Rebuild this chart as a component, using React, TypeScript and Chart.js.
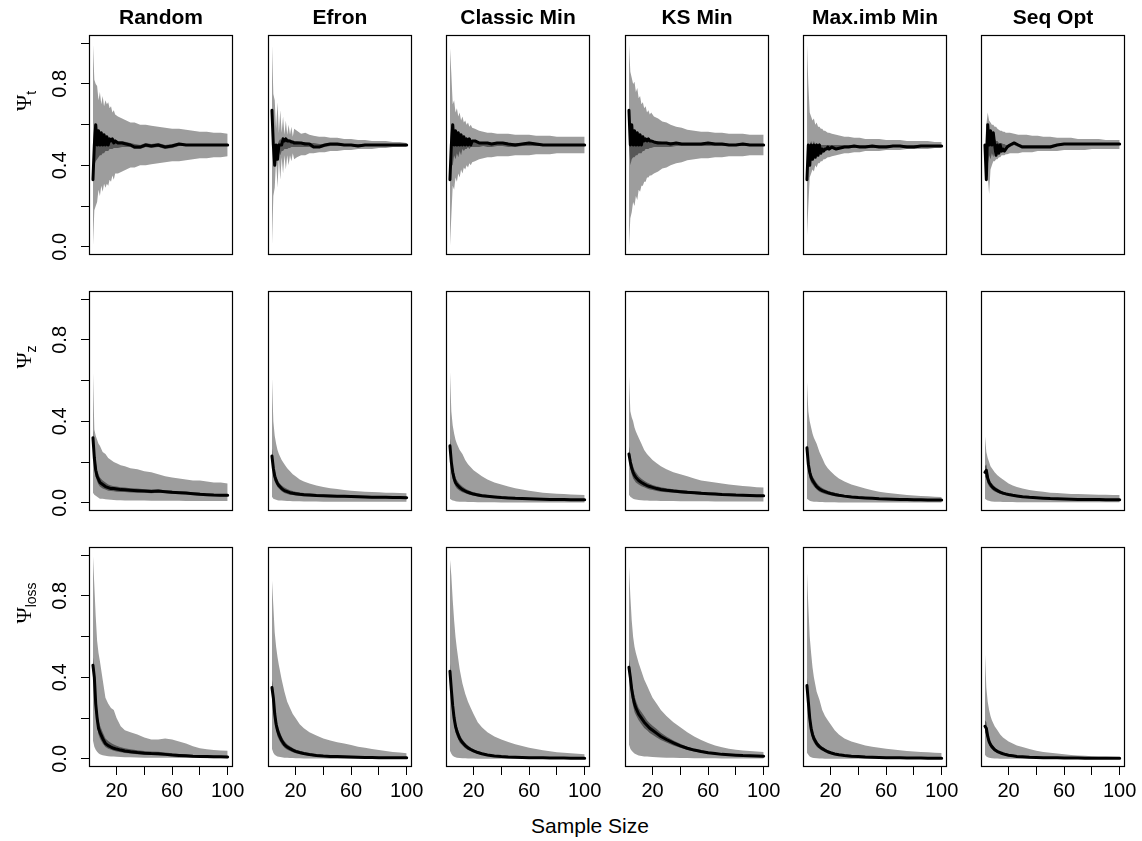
import React, { useEffect, useRef } from "react";
import { Chart, registerables } from "chart.js";

Chart.register(...registerables);
Chart.defaults.font.family = '"Liberation Sans", Arial, Helvetica, sans-serif';

// ---- labels ---------------------------------------------------------------
const methods = ["Random", "Efron", "Classic Min", "KS Min", "Max.imb Min", "Seq Opt"];
const rowSubscripts = ["t", "z", "loss"];
const xTicks = [20, 40, 60, 80, 100];
const xTickLabels = ["20", "", "60", "", "100"];
const yTicks = [0, 0.2, 0.4, 0.6, 0.8, 1.0];
const yTickLabels = ["0.0", "", "0.4", "", "0.8", ""];
const xAxisTitle = "Sample Size";

// ---- sample sizes -----------------------------------------------------------
const nT = [3, 4, 5, 6, 7, 8, 9, 10, 11, 12, 13, 14, 15, 16, 17, 18, 19,
  21, 24, 27, 30, 33, 37, 41, 45, 50, 55, 60, 65, 70, 75, 80, 85, 90, 95, 100];
const nZ = [3, 4, 5, 6, 7, 8, 10, 12, 14, 16, 18, 20, 23, 26, 30,
  35, 40, 45, 50, 55, 60, 65, 70, 75, 80, 85, 90, 95, 100];

// ---- Psi_t : treatment balance (one row per method) -------------------------
const tOuterHi = [
  [1.0, 0.82, 0.80, 0.79, 0.72, 0.76, 0.70, 0.74, 0.69, 0.72, 0.70, 0.71, 0.68, 0.69, 0.66, 0.67, 0.65,
    0.64, 0.63, 0.62, 0.61, 0.61, 0.60, 0.60, 0.595, 0.59, 0.585, 0.58, 0.58, 0.575, 0.57, 0.565, 0.565, 0.56, 0.56, 0.555],
  [1.0, 0.75, 0.72, 0.58, 0.71, 0.56, 0.67, 0.56, 0.64, 0.55, 0.62, 0.55, 0.60, 0.55, 0.59, 0.54, 0.58,
    0.57, 0.555, 0.56, 0.55, 0.545, 0.54, 0.54, 0.535, 0.535, 0.53, 0.53, 0.525, 0.525, 0.52, 0.52, 0.52, 0.515, 0.515, 0.51],
  [0.98, 0.85, 0.70, 0.72, 0.66, 0.68, 0.64, 0.66, 0.62, 0.64, 0.61, 0.62, 0.60, 0.61, 0.59, 0.60, 0.585,
    0.58, 0.57, 0.565, 0.56, 0.56, 0.555, 0.555, 0.555, 0.55, 0.55, 0.55, 0.545, 0.545, 0.545, 0.54, 0.54, 0.54, 0.54, 0.54],
  [1.0, 0.86, 0.83, 0.80, 0.81, 0.76, 0.78, 0.73, 0.74, 0.70, 0.71, 0.68, 0.69, 0.66, 0.67, 0.65, 0.66,
    0.64, 0.63, 0.615, 0.61, 0.60, 0.59, 0.585, 0.575, 0.57, 0.565, 0.565, 0.56, 0.56, 0.555, 0.555, 0.555, 0.55, 0.55, 0.55],
  [1.0, 0.80, 0.66, 0.64, 0.62, 0.63, 0.60, 0.61, 0.59, 0.59, 0.58, 0.58, 0.57, 0.57, 0.565, 0.56, 0.56,
    0.555, 0.55, 0.545, 0.54, 0.54, 0.535, 0.535, 0.53, 0.53, 0.53, 0.525, 0.525, 0.525, 0.52, 0.52, 0.52, 0.52, 0.515, 0.515],
  [0.5, 0.6, 0.66, 0.62, 0.61, 0.60, 0.60, 0.59, 0.59, 0.58, 0.575, 0.57, 0.57, 0.565, 0.565, 0.56, 0.56,
    0.56, 0.555, 0.55, 0.55, 0.55, 0.545, 0.545, 0.54, 0.54, 0.535, 0.535, 0.535, 0.53, 0.53, 0.53, 0.53, 0.525, 0.525, 0.525],
];
const tOuterLo = [
  [0.0, 0.18, 0.20, 0.22, 0.28, 0.25, 0.30, 0.27, 0.31, 0.29, 0.31, 0.30, 0.33, 0.32, 0.35, 0.33, 0.36,
    0.36, 0.37, 0.38, 0.39, 0.39, 0.40, 0.40, 0.405, 0.41, 0.415, 0.42, 0.42, 0.425, 0.43, 0.435, 0.435, 0.44, 0.44, 0.445],
  [0.0, 0.25, 0.29, 0.43, 0.29, 0.44, 0.33, 0.44, 0.36, 0.45, 0.38, 0.45, 0.40, 0.45, 0.42, 0.46, 0.43,
    0.44, 0.45, 0.45, 0.46, 0.46, 0.465, 0.465, 0.47, 0.47, 0.475, 0.475, 0.48, 0.48, 0.48, 0.485, 0.485, 0.49, 0.49, 0.49],
  [0.0, 0.15, 0.30, 0.28, 0.34, 0.32, 0.36, 0.34, 0.38, 0.36, 0.39, 0.38, 0.40, 0.39, 0.41, 0.40, 0.415,
    0.42, 0.43, 0.435, 0.44, 0.44, 0.445, 0.445, 0.445, 0.45, 0.45, 0.45, 0.455, 0.455, 0.455, 0.46, 0.46, 0.46, 0.46, 0.46],
  [0.0, 0.14, 0.17, 0.22, 0.20, 0.25, 0.23, 0.28, 0.27, 0.30, 0.30, 0.32, 0.32, 0.34, 0.34, 0.35, 0.35,
    0.36, 0.37, 0.385, 0.39, 0.40, 0.41, 0.415, 0.425, 0.43, 0.435, 0.435, 0.44, 0.44, 0.445, 0.445, 0.445, 0.45, 0.45, 0.45],
  [0.05, 0.20, 0.34, 0.36, 0.38, 0.37, 0.40, 0.39, 0.41, 0.41, 0.42, 0.42, 0.43, 0.43, 0.435, 0.44, 0.44,
    0.445, 0.45, 0.455, 0.46, 0.46, 0.465, 0.465, 0.47, 0.47, 0.47, 0.475, 0.475, 0.475, 0.48, 0.48, 0.48, 0.48, 0.485, 0.485],
  [0.33, 0.33, 0.35, 0.26, 0.38, 0.40, 0.42, 0.42, 0.43, 0.43, 0.44, 0.44, 0.45, 0.45, 0.45, 0.455, 0.455,
    0.46, 0.46, 0.46, 0.465, 0.465, 0.465, 0.47, 0.47, 0.47, 0.47, 0.475, 0.475, 0.475, 0.475, 0.48, 0.48, 0.48, 0.48, 0.48],
];
const tInnerHi = [
  [0.5, 0.6, 0.6, 0.58, 0.57, 0.56, 0.56, 0.55, 0.55, 0.545, 0.54, 0.535, 0.53, 0.53, 0.53, 0.525, 0.525,
    0.52, 0.52, 0.515, 0.51, 0.505, 0.5, 0.51, 0.505, 0.51, 0.5, 0.505, 0.51, 0.505, 0.505, 0.505, 0.505, 0.505, 0.505, 0.505],
  [0.67, 0.5, 0.5, 0.5, 0.5, 0.52, 0.53, 0.52, 0.54, 0.53, 0.54, 0.53, 0.53, 0.525, 0.525, 0.52, 0.52,
    0.52, 0.515, 0.515, 0.51, 0.51, 0.505, 0.505, 0.51, 0.51, 0.505, 0.505, 0.505, 0.505, 0.505, 0.505, 0.505, 0.505, 0.505, 0.505],
  [0.5, 0.6, 0.6, 0.56, 0.57, 0.55, 0.56, 0.54, 0.55, 0.54, 0.54, 0.53, 0.53, 0.53, 0.53, 0.52, 0.52,
    0.52, 0.515, 0.515, 0.515, 0.51, 0.515, 0.515, 0.51, 0.51, 0.51, 0.515, 0.51, 0.505, 0.505, 0.505, 0.505, 0.505, 0.505, 0.505],
  [0.67, 0.6, 0.6, 0.58, 0.57, 0.56, 0.56, 0.55, 0.55, 0.54, 0.54, 0.535, 0.535, 0.53, 0.53, 0.525, 0.525,
    0.52, 0.52, 0.515, 0.515, 0.515, 0.515, 0.51, 0.51, 0.51, 0.51, 0.515, 0.51, 0.51, 0.505, 0.505, 0.51, 0.505, 0.505, 0.505],
  [0.5, 0.5, 0.5, 0.52, 0.5, 0.52, 0.5, 0.51, 0.5, 0.51, 0.5, 0.5, 0.5, 0.5, 0.5, 0.5, 0.5,
    0.5, 0.5, 0.5, 0.5, 0.5, 0.5, 0.5, 0.5, 0.5, 0.5, 0.5, 0.5, 0.5, 0.5, 0.5, 0.5, 0.5, 0.5, 0.5],
  [0.5, 0.5, 0.6, 0.55, 0.57, 0.54, 0.56, 0.53, 0.52, 0.52, 0.51, 0.51, 0.51, 0.505, 0.505, 0.5, 0.5,
    0.505, 0.515, 0.505, 0.5, 0.5, 0.5, 0.5, 0.5, 0.5, 0.505, 0.51, 0.51, 0.51, 0.51, 0.51, 0.51, 0.51, 0.51, 0.51],
];
const tInnerLo = [
  [0.33, 0.4, 0.42, 0.43, 0.44, 0.45, 0.45, 0.46, 0.46, 0.47, 0.47, 0.47, 0.48, 0.48, 0.48, 0.485, 0.485,
    0.485, 0.49, 0.49, 0.49, 0.48, 0.48, 0.49, 0.485, 0.49, 0.48, 0.485, 0.495, 0.495, 0.495, 0.495, 0.495, 0.495, 0.495, 0.495],
  [0.5, 0.5, 0.4, 0.5, 0.43, 0.47, 0.45, 0.47, 0.47, 0.48, 0.48, 0.48, 0.485, 0.485, 0.49, 0.49, 0.49,
    0.49, 0.49, 0.49, 0.49, 0.485, 0.485, 0.49, 0.495, 0.495, 0.495, 0.495, 0.49, 0.495, 0.495, 0.495, 0.495, 0.495, 0.495, 0.495],
  [0.33, 0.4, 0.4, 0.45, 0.43, 0.46, 0.44, 0.47, 0.45, 0.48, 0.47, 0.48, 0.48, 0.49, 0.48, 0.49, 0.49,
    0.49, 0.49, 0.495, 0.49, 0.49, 0.495, 0.495, 0.49, 0.49, 0.495, 0.495, 0.495, 0.495, 0.495, 0.495, 0.495, 0.495, 0.495, 0.495],
  [0.5, 0.4, 0.43, 0.44, 0.44, 0.45, 0.45, 0.46, 0.46, 0.46, 0.47, 0.47, 0.48, 0.48, 0.48, 0.485, 0.485,
    0.49, 0.49, 0.49, 0.49, 0.49, 0.495, 0.495, 0.495, 0.495, 0.495, 0.495, 0.495, 0.495, 0.495, 0.495, 0.495, 0.495, 0.495, 0.495],
  [0.33, 0.4, 0.4, 0.44, 0.43, 0.45, 0.44, 0.46, 0.45, 0.46, 0.46, 0.47, 0.47, 0.47, 0.475, 0.48, 0.475,
    0.48, 0.475, 0.48, 0.485, 0.485, 0.485, 0.485, 0.485, 0.485, 0.485, 0.485, 0.49, 0.49, 0.485, 0.485, 0.49, 0.49, 0.49, 0.49],
  [0.5, 0.33, 0.4, 0.45, 0.43, 0.46, 0.44, 0.47, 0.45, 0.47, 0.46, 0.47, 0.47, 0.48, 0.47, 0.48, 0.485,
    0.49, 0.5, 0.49, 0.485, 0.485, 0.485, 0.485, 0.485, 0.485, 0.495, 0.5, 0.5, 0.5, 0.5, 0.5, 0.5, 0.5, 0.5, 0.5],
];
const tMedian = [
  [0.33, 0.5, 0.6, 0.5, 0.57, 0.5, 0.56, 0.5, 0.55, 0.5, 0.54, 0.5, 0.53, 0.52, 0.53, 0.51, 0.52,
    0.51, 0.51, 0.505, 0.5, 0.49, 0.49, 0.5, 0.495, 0.5, 0.49, 0.495, 0.505, 0.5, 0.5, 0.5, 0.5, 0.5, 0.5, 0.5],
  [0.67, 0.5, 0.4, 0.5, 0.43, 0.5, 0.5, 0.5, 0.53, 0.52, 0.53, 0.52, 0.52, 0.52, 0.515, 0.515, 0.51,
    0.51, 0.51, 0.505, 0.505, 0.49, 0.49, 0.5, 0.505, 0.505, 0.5, 0.5, 0.495, 0.5, 0.5, 0.5, 0.5, 0.5, 0.5, 0.5],
  [0.33, 0.5, 0.6, 0.5, 0.57, 0.5, 0.56, 0.5, 0.55, 0.5, 0.54, 0.5, 0.53, 0.5, 0.53, 0.5, 0.52,
    0.52, 0.51, 0.51, 0.51, 0.505, 0.51, 0.51, 0.505, 0.5, 0.505, 0.51, 0.505, 0.5, 0.5, 0.5, 0.5, 0.5, 0.5, 0.5],
  [0.67, 0.5, 0.6, 0.5, 0.57, 0.5, 0.56, 0.5, 0.55, 0.5, 0.54, 0.52, 0.53, 0.52, 0.53, 0.52, 0.52,
    0.515, 0.51, 0.51, 0.51, 0.505, 0.51, 0.505, 0.505, 0.505, 0.505, 0.51, 0.505, 0.505, 0.5, 0.5, 0.505, 0.5, 0.5, 0.5],
  [0.33, 0.5, 0.4, 0.5, 0.43, 0.5, 0.44, 0.5, 0.45, 0.5, 0.46, 0.48, 0.47, 0.48, 0.48, 0.49, 0.48,
    0.49, 0.48, 0.485, 0.49, 0.49, 0.495, 0.49, 0.49, 0.495, 0.49, 0.49, 0.495, 0.495, 0.49, 0.49, 0.495, 0.495, 0.495, 0.495],
  [0.5, 0.33, 0.6, 0.5, 0.57, 0.5, 0.56, 0.5, 0.45, 0.5, 0.46, 0.5, 0.47, 0.48, 0.47, 0.48, 0.49,
    0.5, 0.51, 0.5, 0.49, 0.49, 0.49, 0.49, 0.49, 0.49, 0.5, 0.505, 0.505, 0.505, 0.505, 0.505, 0.505, 0.505, 0.505, 0.505],
];

// ---- Psi_z : covariate balance ----------------------------------------------
const zOuterHi = [
  [0.65, 0.36, 0.33, 0.31, 0.29, 0.28, 0.25, 0.24, 0.22, 0.21, 0.20, 0.195, 0.185, 0.18, 0.17,
    0.165, 0.155, 0.15, 0.14, 0.13, 0.125, 0.12, 0.115, 0.11, 0.11, 0.105, 0.10, 0.10, 0.095],
  [0.62, 0.40, 0.33, 0.29, 0.26, 0.24, 0.21, 0.19, 0.17, 0.155, 0.14, 0.13, 0.115, 0.105, 0.095,
    0.085, 0.078, 0.072, 0.068, 0.063, 0.06, 0.057, 0.055, 0.053, 0.052, 0.05, 0.049, 0.048, 0.047],
  [0.65, 0.45, 0.38, 0.34, 0.31, 0.29, 0.26, 0.24, 0.21, 0.19, 0.175, 0.16, 0.145, 0.13, 0.115,
    0.1, 0.09, 0.08, 0.072, 0.065, 0.06, 0.055, 0.05, 0.047, 0.045, 0.043, 0.041, 0.04, 0.038],
  [0.63, 0.45, 0.42, 0.4, 0.37, 0.35, 0.32, 0.29, 0.26, 0.24, 0.225, 0.21, 0.195, 0.18, 0.165,
    0.15, 0.14, 0.13, 0.12, 0.11, 0.105, 0.1, 0.095, 0.09, 0.087, 0.083, 0.08, 0.077, 0.075],
  [0.6, 0.45, 0.4, 0.37, 0.34, 0.32, 0.29, 0.25, 0.22, 0.19, 0.17, 0.155, 0.135, 0.12, 0.105,
    0.09, 0.08, 0.07, 0.062, 0.055, 0.05, 0.046, 0.042, 0.039, 0.036, 0.034, 0.032, 0.03, 0.029],
  [0.33, 0.25, 0.22, 0.2, 0.18, 0.17, 0.15, 0.135, 0.125, 0.115, 0.105, 0.095, 0.085, 0.078, 0.07,
    0.063, 0.058, 0.054, 0.05, 0.048, 0.046, 0.044, 0.043, 0.042, 0.041, 0.04, 0.04, 0.039, 0.038],
];
const zOuterLo = [
  [0.05, 0.04, 0.035, 0.03, 0.025, 0.02, 0.02, 0.018, 0.016, 0.015, 0.014, 0.013, 0.013, 0.012, 0.012,
    0.011, 0.011, 0.01, 0.01, 0.01, 0.01, 0.01, 0.009, 0.009, 0.009, 0.009, 0.009, 0.009, 0.009],
  [0.03, 0.02, 0.018, 0.015, 0.013, 0.012, 0.011, 0.01, 0.009, 0.009, 0.008, 0.008, 0.008, 0.007, 0.007,
    0.007, 0.006, 0.006, 0.006, 0.006, 0.006, 0.005, 0.005, 0.005, 0.005, 0.005, 0.005, 0.005, 0.005],
  [0.02, 0.015, 0.012, 0.01, 0.008, 0.007, 0.006, 0.005, 0.005, 0.004, 0.004, 0.004, 0.003, 0.003, 0.003,
    0.003, 0.002, 0.002, 0.002, 0.002, 0.002, 0.002, 0.002, 0.002, 0.002, 0.002, 0.002, 0.002, 0.002],
  [0.04, 0.03, 0.025, 0.02, 0.018, 0.016, 0.014, 0.013, 0.012, 0.011, 0.01, 0.01, 0.01, 0.009, 0.009,
    0.009, 0.008, 0.008, 0.008, 0.008, 0.008, 0.007, 0.007, 0.007, 0.007, 0.007, 0.007, 0.007, 0.007],
  [0.02, 0.015, 0.01, 0.008, 0.007, 0.006, 0.005, 0.004, 0.004, 0.003, 0.003, 0.003, 0.003, 0.002, 0.002,
    0.002, 0.002, 0.002, 0.002, 0.002, 0.002, 0.002, 0.002, 0.002, 0.002, 0.002, 0.002, 0.002, 0.002],
  [0.02, 0.015, 0.012, 0.01, 0.008, 0.007, 0.006, 0.005, 0.005, 0.004, 0.004, 0.004, 0.004, 0.003, 0.003,
    0.003, 0.003, 0.003, 0.003, 0.003, 0.003, 0.003, 0.003, 0.003, 0.003, 0.003, 0.003, 0.003, 0.003],
];
const zInnerHi = [
  [0.36, 0.26, 0.20, 0.16, 0.14, 0.125, 0.11, 0.10, 0.09, 0.085, 0.082, 0.08, 0.077, 0.075, 0.072,
    0.07, 0.067, 0.065, 0.066, 0.062, 0.06, 0.057, 0.055, 0.052, 0.049, 0.046, 0.044, 0.043, 0.042],
  [0.27, 0.2, 0.16, 0.135, 0.115, 0.1, 0.085, 0.075, 0.068, 0.062, 0.058, 0.055, 0.051, 0.048, 0.046,
    0.043, 0.041, 0.04, 0.039, 0.038, 0.037, 0.036, 0.035, 0.034, 0.033, 0.032, 0.031, 0.031, 0.03],
  [0.32, 0.24, 0.18, 0.15, 0.125, 0.11, 0.092, 0.08, 0.07, 0.063, 0.057, 0.052, 0.047, 0.043, 0.039,
    0.035, 0.032, 0.029, 0.027, 0.025, 0.024, 0.023, 0.022, 0.021, 0.02, 0.02, 0.019, 0.019, 0.019],
  [0.28, 0.23, 0.2, 0.18, 0.16, 0.15, 0.13, 0.118, 0.108, 0.1, 0.094, 0.088, 0.082, 0.077, 0.072,
    0.067, 0.063, 0.06, 0.057, 0.054, 0.051, 0.049, 0.047, 0.045, 0.043, 0.042, 0.041, 0.04, 0.04],
  [0.31, 0.22, 0.18, 0.15, 0.13, 0.12, 0.097, 0.083, 0.073, 0.066, 0.06, 0.055, 0.049, 0.044, 0.039,
    0.035, 0.031, 0.029, 0.026, 0.024, 0.023, 0.022, 0.021, 0.02, 0.019, 0.018, 0.018, 0.017, 0.017],
  [0.18, 0.19, 0.145, 0.12, 0.105, 0.095, 0.08, 0.07, 0.062, 0.056, 0.051, 0.047, 0.042, 0.039, 0.035,
    0.031, 0.029, 0.027, 0.025, 0.023, 0.022, 0.021, 0.02, 0.02, 0.019, 0.019, 0.018, 0.018, 0.018],
];
const zInnerLo = [
  [0.28, 0.18, 0.13, 0.105, 0.09, 0.08, 0.07, 0.065, 0.06, 0.058, 0.057, 0.055, 0.053, 0.053, 0.051,
    0.05, 0.049, 0.047, 0.05, 0.048, 0.044, 0.043, 0.041, 0.038, 0.035, 0.034, 0.032, 0.031, 0.031],
  [0.19, 0.14, 0.105, 0.09, 0.078, 0.07, 0.057, 0.048, 0.044, 0.04, 0.038, 0.036, 0.034, 0.033, 0.031,
    0.03, 0.029, 0.028, 0.027, 0.026, 0.025, 0.025, 0.024, 0.023, 0.022, 0.022, 0.021, 0.021, 0.02],
  [0.24, 0.16, 0.12, 0.095, 0.08, 0.07, 0.06, 0.052, 0.047, 0.042, 0.038, 0.035, 0.032, 0.029, 0.026,
    0.024, 0.021, 0.02, 0.018, 0.017, 0.016, 0.015, 0.014, 0.013, 0.013, 0.012, 0.012, 0.012, 0.011],
  [0.2, 0.17, 0.14, 0.12, 0.11, 0.1, 0.09, 0.082, 0.076, 0.07, 0.066, 0.063, 0.058, 0.055, 0.052,
    0.049, 0.047, 0.044, 0.043, 0.04, 0.039, 0.037, 0.035, 0.034, 0.033, 0.032, 0.031, 0.03, 0.03],
  [0.23, 0.16, 0.12, 0.1, 0.09, 0.08, 0.065, 0.055, 0.048, 0.044, 0.04, 0.037, 0.033, 0.03, 0.027,
    0.024, 0.021, 0.019, 0.018, 0.016, 0.015, 0.014, 0.013, 0.013, 0.012, 0.012, 0.011, 0.011, 0.011],
  [0.12, 0.13, 0.095, 0.08, 0.075, 0.066, 0.056, 0.05, 0.045, 0.04, 0.037, 0.035, 0.032, 0.029, 0.026,
    0.023, 0.021, 0.019, 0.018, 0.017, 0.016, 0.015, 0.014, 0.014, 0.013, 0.013, 0.012, 0.012, 0.012],
];
const zMedian = [
  [0.32, 0.22, 0.16, 0.13, 0.115, 0.10, 0.09, 0.08, 0.075, 0.07, 0.07, 0.068, 0.065, 0.064, 0.062,
    0.06, 0.058, 0.056, 0.058, 0.055, 0.052, 0.05, 0.048, 0.045, 0.042, 0.04, 0.038, 0.037, 0.037],
  [0.23, 0.17, 0.13, 0.11, 0.095, 0.085, 0.07, 0.06, 0.055, 0.05, 0.047, 0.045, 0.042, 0.04, 0.038,
    0.036, 0.035, 0.034, 0.033, 0.032, 0.031, 0.03, 0.029, 0.028, 0.027, 0.027, 0.026, 0.026, 0.025],
  [0.28, 0.2, 0.15, 0.12, 0.1, 0.09, 0.075, 0.065, 0.058, 0.052, 0.047, 0.043, 0.039, 0.035, 0.032,
    0.029, 0.026, 0.024, 0.022, 0.021, 0.02, 0.019, 0.018, 0.017, 0.016, 0.016, 0.015, 0.015, 0.015],
  [0.24, 0.2, 0.17, 0.15, 0.135, 0.125, 0.11, 0.1, 0.092, 0.085, 0.08, 0.076, 0.07, 0.066, 0.062,
    0.058, 0.055, 0.052, 0.05, 0.047, 0.045, 0.043, 0.041, 0.04, 0.038, 0.037, 0.036, 0.035, 0.035],
  [0.27, 0.19, 0.15, 0.125, 0.11, 0.1, 0.08, 0.068, 0.06, 0.055, 0.05, 0.046, 0.041, 0.037, 0.033,
    0.029, 0.026, 0.024, 0.022, 0.02, 0.019, 0.018, 0.017, 0.016, 0.015, 0.015, 0.014, 0.014, 0.014],
  [0.15, 0.16, 0.12, 0.1, 0.09, 0.08, 0.068, 0.06, 0.053, 0.048, 0.044, 0.041, 0.037, 0.034, 0.03,
    0.027, 0.025, 0.023, 0.021, 0.02, 0.019, 0.018, 0.017, 0.017, 0.016, 0.016, 0.015, 0.015, 0.015],
];

// ---- Psi_loss ----------------------------------------------------------------
const lossOuterHi = [
  [1.0, 0.85, 0.7, 0.58, 0.52, 0.48, 0.39, 0.3, 0.27, 0.25, 0.24, 0.2, 0.16, 0.14, 0.13,
    0.12, 0.105, 0.095, 0.095, 0.1, 0.095, 0.085, 0.075, 0.062, 0.052, 0.047, 0.043, 0.041, 0.04],
  [0.88, 0.75, 0.62, 0.55, 0.5, 0.46, 0.39, 0.33, 0.28, 0.25, 0.22, 0.2, 0.17, 0.15, 0.13,
    0.115, 0.1, 0.09, 0.082, 0.075, 0.068, 0.06, 0.054, 0.048, 0.043, 0.038, 0.034, 0.031, 0.028],
  [0.98, 0.9, 0.78, 0.68, 0.6, 0.54, 0.44, 0.37, 0.32, 0.28, 0.25, 0.22, 0.18, 0.155, 0.13,
    0.11, 0.095, 0.083, 0.072, 0.063, 0.055, 0.048, 0.042, 0.037, 0.033, 0.03, 0.027, 0.025, 0.023],
  [0.95, 0.8, 0.68, 0.6, 0.55, 0.52, 0.47, 0.43, 0.39, 0.36, 0.33, 0.3, 0.27, 0.24, 0.21,
    0.18, 0.155, 0.13, 0.11, 0.092, 0.078, 0.066, 0.057, 0.05, 0.045, 0.041, 0.038, 0.036, 0.034],
  [0.92, 0.75, 0.6, 0.52, 0.45, 0.4, 0.33, 0.29, 0.24, 0.21, 0.19, 0.17, 0.14, 0.12, 0.1,
    0.085, 0.075, 0.066, 0.06, 0.055, 0.05, 0.046, 0.042, 0.039, 0.036, 0.034, 0.032, 0.03, 0.029],
  [0.52, 0.35, 0.28, 0.24, 0.21, 0.19, 0.16, 0.14, 0.12, 0.105, 0.095, 0.085, 0.075, 0.066, 0.058,
    0.048, 0.04, 0.034, 0.03, 0.026, 0.022, 0.019, 0.017, 0.015, 0.013, 0.012, 0.011, 0.01, 0.009],
];
const lossOuterLo = [
  [0.09, 0.06, 0.045, 0.035, 0.027, 0.022, 0.018, 0.015, 0.013, 0.012, 0.011, 0.01, 0.009, 0.008, 0.008,
    0.007, 0.006, 0.006, 0.005, 0.005, 0.005, 0.004, 0.004, 0.004, 0.004, 0.003, 0.003, 0.003, 0.003],
  [0.05, 0.03, 0.02, 0.015, 0.012, 0.01, 0.008, 0.006, 0.005, 0.004, 0.004, 0.003, 0.003, 0.002, 0.002,
    0.002, 0.002, 0.001, 0.001, 0.001, 0.001, 0.001, 0.001, 0.001, 0.001, 0.001, 0.001, 0.001, 0.001],
  [0.04, 0.025, 0.015, 0.01, 0.008, 0.006, 0.004, 0.003, 0.003, 0.002, 0.002, 0.002, 0.001, 0.001, 0.001,
    0.001, 0.001, 0.001, 0.001, 0.001, 0.001, 0.001, 0.001, 0.001, 0.001, 0.001, 0.001, 0.001, 0.001],
  [0.07, 0.05, 0.04, 0.032, 0.026, 0.022, 0.017, 0.014, 0.012, 0.011, 0.01, 0.009, 0.008, 0.007, 0.006,
    0.005, 0.004, 0.004, 0.003, 0.003, 0.003, 0.003, 0.002, 0.002, 0.002, 0.002, 0.002, 0.002, 0.002],
  [0.03, 0.02, 0.012, 0.008, 0.006, 0.004, 0.003, 0.002, 0.002, 0.001, 0.001, 0.001, 0.001, 0.001, 0.001,
    0.001, 0.001, 0.001, 0.001, 0.001, 0.001, 0.001, 0.001, 0.001, 0.001, 0.001, 0.001, 0.001, 0.001],
  [0.02, 0.012, 0.008, 0.006, 0.004, 0.003, 0.002, 0.002, 0.001, 0.001, 0.001, 0.001, 0.001, 0.001, 0.001,
    0.001, 0.001, 0.001, 0.001, 0.001, 0.001, 0.001, 0.001, 0.001, 0.001, 0.001, 0.001, 0.001, 0.001],
];
const lossInnerHi = [
  [0.5, 0.44, 0.31, 0.24, 0.19, 0.165, 0.13, 0.1, 0.088, 0.078, 0.07, 0.064, 0.057, 0.052, 0.047,
    0.042, 0.038, 0.036, 0.035, 0.031, 0.027, 0.024, 0.021, 0.019, 0.017, 0.016, 0.015, 0.014, 0.013],
  [0.39, 0.34, 0.26, 0.2, 0.17, 0.145, 0.11, 0.086, 0.072, 0.062, 0.053, 0.046, 0.039, 0.033, 0.027,
    0.022, 0.018, 0.016, 0.014, 0.013, 0.012, 0.011, 0.01, 0.009, 0.008, 0.008, 0.007, 0.007, 0.007],
  [0.47, 0.38, 0.3, 0.23, 0.19, 0.16, 0.12, 0.095, 0.078, 0.065, 0.055, 0.047, 0.038, 0.031, 0.024,
    0.018, 0.014, 0.012, 0.01, 0.009, 0.008, 0.007, 0.006, 0.006, 0.005, 0.005, 0.005, 0.004, 0.004],
  [0.49, 0.44, 0.38, 0.34, 0.31, 0.285, 0.25, 0.23, 0.21, 0.19, 0.175, 0.163, 0.146, 0.128, 0.11,
    0.09, 0.074, 0.06, 0.05, 0.042, 0.035, 0.03, 0.026, 0.023, 0.021, 0.019, 0.017, 0.016, 0.015],
  [0.4, 0.32, 0.24, 0.18, 0.145, 0.12, 0.09, 0.072, 0.06, 0.05, 0.042, 0.036, 0.029, 0.024, 0.019,
    0.016, 0.013, 0.011, 0.01, 0.009, 0.008, 0.007, 0.006, 0.006, 0.005, 0.005, 0.004, 0.004, 0.004],
  [0.19, 0.18, 0.13, 0.1, 0.085, 0.072, 0.055, 0.044, 0.036, 0.03, 0.025, 0.021, 0.017, 0.014, 0.012,
    0.01, 0.008, 0.007, 0.006, 0.006, 0.005, 0.005, 0.005, 0.004, 0.004, 0.004, 0.004, 0.004, 0.004],
];
const lossInnerLo = [
  [0.42, 0.36, 0.23, 0.16, 0.12, 0.1, 0.075, 0.058, 0.05, 0.045, 0.04, 0.036, 0.032, 0.029, 0.026,
    0.023, 0.021, 0.019, 0.018, 0.016, 0.014, 0.012, 0.011, 0.01, 0.009, 0.008, 0.007, 0.007, 0.007],
  [0.31, 0.26, 0.18, 0.14, 0.11, 0.095, 0.07, 0.055, 0.045, 0.038, 0.033, 0.028, 0.023, 0.019, 0.015,
    0.012, 0.01, 0.009, 0.008, 0.007, 0.006, 0.005, 0.005, 0.004, 0.004, 0.004, 0.003, 0.003, 0.003],
  [0.39, 0.3, 0.22, 0.17, 0.13, 0.11, 0.08, 0.065, 0.052, 0.043, 0.037, 0.031, 0.025, 0.02, 0.015,
    0.011, 0.009, 0.007, 0.006, 0.005, 0.004, 0.004, 0.003, 0.003, 0.003, 0.003, 0.002, 0.002, 0.002],
  [0.41, 0.36, 0.3, 0.26, 0.23, 0.215, 0.19, 0.17, 0.152, 0.14, 0.127, 0.118, 0.105, 0.093, 0.08,
    0.066, 0.054, 0.044, 0.036, 0.03, 0.025, 0.022, 0.019, 0.017, 0.015, 0.013, 0.012, 0.012, 0.011],
  [0.32, 0.24, 0.16, 0.12, 0.095, 0.08, 0.06, 0.048, 0.04, 0.034, 0.028, 0.024, 0.019, 0.016, 0.013,
    0.01, 0.009, 0.007, 0.006, 0.005, 0.005, 0.004, 0.004, 0.003, 0.003, 0.003, 0.002, 0.002, 0.002],
  [0.13, 0.12, 0.09, 0.07, 0.056, 0.048, 0.036, 0.029, 0.024, 0.02, 0.017, 0.015, 0.012, 0.01, 0.008,
    0.006, 0.005, 0.005, 0.004, 0.004, 0.003, 0.003, 0.003, 0.002, 0.002, 0.002, 0.002, 0.002, 0.002],
];
const lossMedian = [
  [0.46, 0.4, 0.27, 0.2, 0.15, 0.13, 0.1, 0.075, 0.065, 0.058, 0.052, 0.048, 0.043, 0.039, 0.035,
    0.031, 0.028, 0.026, 0.025, 0.022, 0.019, 0.017, 0.015, 0.013, 0.012, 0.011, 0.01, 0.01, 0.009],
  [0.35, 0.3, 0.22, 0.17, 0.14, 0.12, 0.09, 0.07, 0.058, 0.05, 0.043, 0.037, 0.031, 0.026, 0.021,
    0.017, 0.014, 0.012, 0.011, 0.01, 0.009, 0.008, 0.007, 0.007, 0.006, 0.006, 0.005, 0.005, 0.005],
  [0.43, 0.34, 0.26, 0.2, 0.16, 0.135, 0.1, 0.08, 0.065, 0.054, 0.046, 0.039, 0.031, 0.025, 0.019,
    0.014, 0.011, 0.009, 0.008, 0.007, 0.006, 0.005, 0.005, 0.004, 0.004, 0.004, 0.003, 0.003, 0.003],
  [0.45, 0.4, 0.34, 0.3, 0.27, 0.25, 0.22, 0.2, 0.18, 0.165, 0.15, 0.14, 0.125, 0.11, 0.095,
    0.078, 0.064, 0.052, 0.043, 0.036, 0.03, 0.026, 0.022, 0.02, 0.018, 0.016, 0.015, 0.014, 0.013],
  [0.36, 0.28, 0.2, 0.15, 0.12, 0.1, 0.075, 0.06, 0.05, 0.042, 0.035, 0.03, 0.024, 0.02, 0.016,
    0.013, 0.011, 0.009, 0.008, 0.007, 0.006, 0.005, 0.005, 0.004, 0.004, 0.004, 0.003, 0.003, 0.003],
  [0.16, 0.15, 0.11, 0.085, 0.07, 0.06, 0.045, 0.036, 0.03, 0.025, 0.021, 0.018, 0.015, 0.012, 0.01,
    0.008, 0.007, 0.006, 0.005, 0.005, 0.004, 0.004, 0.004, 0.003, 0.003, 0.003, 0.003, 0.003, 0.003],
];

const rows = [
  { xs: nT, hi: tOuterHi, lo: tOuterLo, ihi: tInnerHi, ilo: tInnerLo, med: tMedian },
  { xs: nZ, hi: zOuterHi, lo: zOuterLo, ihi: zInnerHi, ilo: zInnerLo, med: zMedian },
  { xs: nZ, hi: lossOuterHi, lo: lossOuterLo, ihi: lossInnerHi, ilo: lossInnerLo, med: lossMedian },
];

// ---- page geometry ----------------------------------------------------------
const COL_LEFT = [89, 268, 446, 625, 803, 981];
const ROW_TOP = [35, 291, 547];
const BOX_W = 144;
const BOX_H = 220;
const PAD_L = 60;
const PAD_T = 34;
const PAD_R = 26;
const PAD_B = 44;
const CW = BOX_W + PAD_L + PAD_R;
const CH = BOX_H + PAD_T + PAD_B;
const X_MIN = 0.16;
const X_MAX = 103.84;
const Y_MIN = -0.04;
const Y_MAX = 1.04;

const OUTER_FILL = "#9d9d9d";
const INNER_FILL = "#575757";
const TICK_FONT = { size: 20, family: '"Liberation Sans", Arial, sans-serif' };

function Panel({ row, col }: { row: number; col: number }) {
  const ref = useRef<HTMLCanvasElement | null>(null);

  useEffect(() => {
    const canvas = ref.current;
    if (!canvas) return;
    const src = rows[row];
    const pts = (ys: number[]) => src.xs.map((x, i) => ({ x, y: ys[i] }));
    const showY = col === 0;
    const showX = row === 2;
    const title = row === 0 ? methods[col] : "";

    // box round the plotting region, plus the column heading on the top row
    const framePlugin = {
      id: "panelFrame",
      afterDraw(chart: any) {
        const { ctx, chartArea: a } = chart;
        ctx.save();
        ctx.strokeStyle = "#000";
        ctx.lineWidth = 1.2;
        ctx.strokeRect(Math.round(a.left) + 0.5, Math.round(a.top) + 0.5,
          Math.round(a.right - a.left) - 1, Math.round(a.bottom - a.top) - 1);
        if (title) {
          ctx.fillStyle = "#000";
          ctx.font = 'bold 21px "Liberation Sans", Arial, sans-serif';
          ctx.textAlign = "center";
          ctx.textBaseline = "alphabetic";
          ctx.fillText(title, (a.left + a.right) / 2, a.top - 11);
        }
        ctx.restore();
      },
    };

    const band = { pointRadius: 0, borderWidth: 0, borderColor: "rgba(0,0,0,0)", tension: 0 };

    const chart = new Chart(canvas, {
      type: "line",
      data: {
        datasets: [
          { ...band, data: pts(src.hi[col]), fill: "+1", backgroundColor: OUTER_FILL, order: 2 },
          { ...band, data: pts(src.lo[col]), fill: false, order: 2 },
          { ...band, data: pts(src.ihi[col]), fill: "+1", backgroundColor: INNER_FILL, order: 1 },
          { ...band, data: pts(src.ilo[col]), fill: false, order: 1 },
          {
            data: pts(src.med[col]), fill: false, pointRadius: 0, borderWidth: 3,
            borderColor: "#000", borderJoinStyle: "round", borderCapStyle: "round", tension: 0, order: 0,
          },
        ],
      } as any,
      options: {
        responsive: false,
        animation: false,
        events: [],
        layout: {
          padding: { left: showY ? 0 : PAD_L, right: PAD_R, top: PAD_T, bottom: showX ? 0 : PAD_B },
        },
        plugins: {
          legend: { display: false },
          tooltip: { enabled: false },
          title: { display: false },
        },
        scales: {
          x: {
            type: "linear",
            min: X_MIN,
            max: X_MAX,
            display: showX,
            afterFit: showX ? (s: any) => { s.height = PAD_B; } : undefined,
            afterBuildTicks: (s: any) => { s.ticks = xTicks.map((v) => ({ value: v })); },
            border: { display: false },
            grid: { drawOnChartArea: false, drawTicks: true, tickLength: 8, color: "#000", lineWidth: 1 },
            ticks: {
              autoSkip: false, maxRotation: 0, minRotation: 0, padding: 4, color: "#000",
              font: TICK_FONT, callback: (_v: any, i: number) => xTickLabels[i],
            },
          },
          y: {
            type: "linear",
            min: Y_MIN,
            max: Y_MAX,
            display: showY,
            afterFit: showY ? (s: any) => { s.width = PAD_L; } : undefined,
            afterBuildTicks: (s: any) => { s.ticks = yTicks.map((v) => ({ value: v })); },
            border: { display: false },
            grid: { drawOnChartArea: false, drawTicks: true, tickLength: 8, color: "#000", lineWidth: 1 },
            ticks: {
              autoSkip: false, minRotation: 90, maxRotation: 90, crossAlign: "center", padding: 7,
              color: "#000", font: TICK_FONT, callback: (_v: any, i: number) => yTickLabels[i],
            },
          },
        },
      } as any,
      plugins: [framePlugin],
    });
    return () => chart.destroy();
  }, [row, col]);

  return (
    <canvas
      ref={ref}
      width={CW}
      height={CH}
      style={{
        position: "absolute",
        left: COL_LEFT[col] - PAD_L,
        top: ROW_TOP[row] - PAD_T,
        width: CW,
        height: CH,
      }}
    />
  );
}

const ROW_LABEL_Y = [101, 357, 603];

export default function App() {
  return (
    <div
      style={{
        position: "absolute",
        left: 0,
        top: 0,
        width: 1142,
        height: 841,
        background: "#fff",
        overflow: "hidden",
      }}
    >
      {rows.map((_, r) =>
        methods.map((_m, c) => <Panel key={`${r}-${c}`} row={r} col={c} />)
      )}
      {rowSubscripts.map((sub, r) => (
        <div
          key={sub}
          style={{
            position: "absolute",
            left: 25,
            top: ROW_LABEL_Y[r],
            transform: "translate(-50%, -50%) rotate(-90deg)",
            whiteSpace: "nowrap",
            lineHeight: 1,
            color: "#000",
          }}
        >
          <span style={{ fontFamily: '"Liberation Serif", "DejaVu Serif", serif', fontSize: 22 }}>Ψ</span>
          <sub style={{ fontFamily: '"Liberation Sans", Arial, sans-serif', fontSize: 14, verticalAlign: "-5px" }}>
            {sub}
          </sub>
        </div>
      ))}
      <div
        style={{
          position: "absolute",
          left: 590,
          top: 815,
          transform: "translateX(-50%)",
          fontFamily: '"Liberation Sans", Arial, sans-serif',
          fontSize: 21,
          lineHeight: "21px",
          whiteSpace: "nowrap",
          color: "#000",
        }}
      >
        {xAxisTitle}
      </div>
    </div>
  );
}
